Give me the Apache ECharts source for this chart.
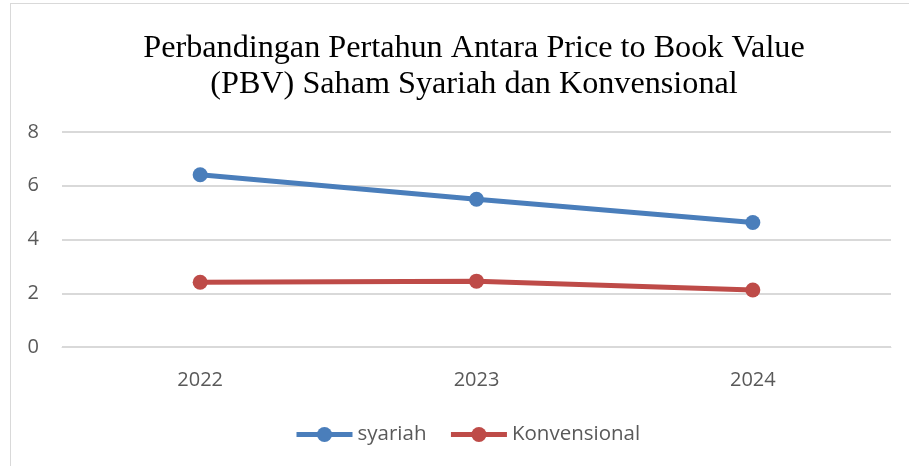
<!DOCTYPE html>
<html>
<head>
<meta charset="utf-8">
<script src="https://cdn.jsdelivr.net/npm/echarts@6/dist/echarts.min.js"></script>
<style>
  html, body { margin: 0; padding: 0; background: #fff; }
  #frame { position: absolute; left: 10px; top: 3px; width: 920px; height: 480px; border: 1px solid #d9d9d9; }
  #main { position: absolute; left: 0; top: 0; width: 909px; height: 466px; }
</style>
</head>
<body>
<div id="frame"></div>
<div id="main"></div>
<script>
  // data
  var years = ["2022", "2023", "2024"];
  var syariah = [6.41, 5.5, 4.63];
  var konvensional = [2.41, 2.45, 2.12];
  var yTicks = [0, 2, 4, 6, 8];

  var myChart = echarts.init(document.getElementById("main"));
  var labelFont = "'Open Sans', 'Liberation Sans', sans-serif";

  myChart.setOption({
    animation: false,
    title: {
      text: "Perbandingan Pertahun Antara Price to Book Value\n(PBV) Saham Syariah dan Konvensional",
      left: 469,
      textAlign: "center",
      top: 26,
      textStyle: {
        fontFamily: "'Liberation Serif', 'DejaVu Serif', serif",
        fontSize: 32.2,
        fontWeight: "normal",
        color: "#000",
        lineHeight: 36
      }
    },
    legend: {
      bottom: 16,
      left: 289,
      itemWidth: 56,
      itemHeight: 19,
      itemGap: 22,
      lineStyle: { width: 5 },
      textStyle: { fontFamily: labelFont, fontSize: 20.5, color: "#595959" },
      data: ["syariah", "Konvensional"]
    },
    grid: { left: 62, right: 18, top: 132, bottom: 119 },
    xAxis: {
      type: "category",
      data: years,
      boundaryGap: true,
      axisLine: { show: true, lineStyle: { color: "#d9d9d9", width: 1 } },
      axisTick: { show: false },
      axisLabel: { fontFamily: labelFont, fontSize: 20, color: "#595959", margin: 23 }
    },
    yAxis: {
      type: "value",
      min: yTicks[0],
      max: yTicks[yTicks.length - 1],
      interval: 2,
      axisLine: { show: false },
      axisTick: { show: false },
      axisLabel: { fontFamily: labelFont, fontSize: 20, color: "#595959", margin: 23 },
      splitLine: { lineStyle: { color: "#d9d9d9", width: 2 } }
    },
    series: [
      {
        name: "syariah",
        type: "line",
        data: syariah,
        symbol: "circle",
        symbolSize: 15,
        lineStyle: { width: 5, color: "#4a7ebb" },
        itemStyle: { color: "#4a7ebb" }
      },
      {
        name: "Konvensional",
        type: "line",
        data: konvensional,
        symbol: "circle",
        symbolSize: 15,
        lineStyle: { width: 5, color: "#be4b48" },
        itemStyle: { color: "#be4b48" }
      }
    ]
  });
</script>
</body>
</html>
